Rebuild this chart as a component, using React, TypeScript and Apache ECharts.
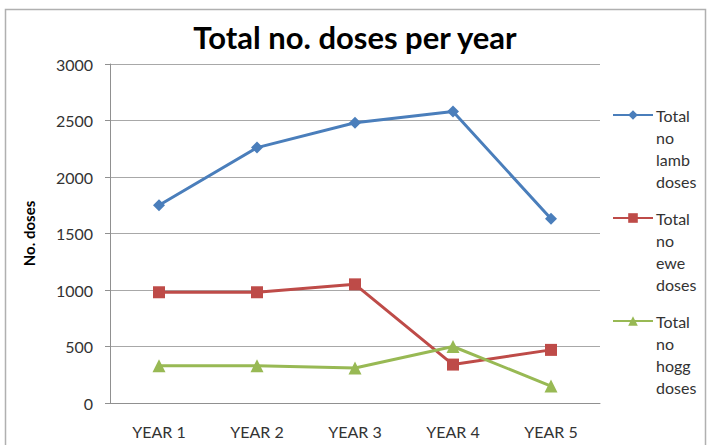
import React, { useEffect, useRef } from "react";
import * as echarts from "echarts";

const categories = ["YEAR 1", "YEAR 2", "YEAR 3", "YEAR 4", "YEAR 5"];
const lambDoses = [1750, 2260, 2480, 2580, 1630];
const eweDoses = [980, 980, 1050, 340, 470];
const hoggDoses = [330, 330, 310, 500, 150];
const seriesNames = ["Total no lamb doses", "Total no ewe doses", "Total no hogg doses"];
const yTicks = { min: 0, max: 3000, interval: 500 };

const FONT = "Lato, 'Open Sans', sans-serif";

export default function App() {
  const ref = useRef<HTMLDivElement>(null);
  useEffect(() => {
    if (!ref.current) return;
    const chart = echarts.init(ref.current, null, { renderer: "svg" });
    const legendTops = [38, 141, 244];
    const legendBase = {
      orient: "vertical",
      left: 612,
      padding: 0,
      itemWidth: 40,
      itemHeight: 12,
      itemGap: 0,
      formatter: (name: string) => "\n\n\n" + name.split(" ").join("\n"),
      textStyle: { fontFamily: FONT, fontSize: 16, color: "#333", lineHeight: 22, padding: [0, 0, 0, -2] },
    };
    chart.setOption({
      animation: false,
      backgroundColor: "#fff",
      title: {
        text: "Total no. doses per year",
        left: "center",
        top: 16,
        padding: [5, 0, 5, 14],
        textStyle: { fontFamily: FONT, fontSize: 31, fontWeight: "bold", color: "#000" },
      },
      graphic: [
        {
          type: "rect",
          shape: { x: 5.5, y: 9.5, width: 700, height: 450 },
          style: { fill: "none", stroke: "#b0b0b0", lineWidth: 1.5 },
          silent: true,
          z: -1,
        },
      ],
      legend: seriesNames.map((n, i) => ({ ...legendBase, top: legendTops[i], data: [n] })),
      grid: { left: 110, right: 110, top: 64, bottom: 42, containLabel: false },
      xAxis: {
        type: "category",
        data: categories,
        boundaryGap: true,
        axisLine: { lineStyle: { color: "#909090", width: 1 } },
        axisTick: { show: false },
        axisLabel: { fontFamily: FONT, fontSize: 16, color: "#333", margin: 20 },
      },
      yAxis: {
        type: "value",
        min: yTicks.min,
        max: yTicks.max,
        interval: yTicks.interval,
        name: "No. doses",
        nameLocation: "middle",
        nameGap: 74,
        nameTextStyle: { fontFamily: FONT, fontSize: 15, fontWeight: "bold", color: "#000" },
        axisLine: { show: true, lineStyle: { color: "#909090", width: 1 } },
        axisTick: { show: true, length: 5, lineStyle: { color: "#909090" } },
        axisLabel: {
          fontFamily: FONT,
          fontSize: 16,
          color: "#333",
          margin: 17,
          formatter: (v: number) => String(v),
        },
        splitLine: { lineStyle: { color: "#a8a8a8", width: 1 } },
      },
      series: [
        {
          name: seriesNames[0],
          type: "line",
          data: lambDoses,
          symbol: "diamond",
          symbolSize: 12,
          lineStyle: { color: "#4a7ebb", width: 3 },
          itemStyle: { color: "#4a7ebb" },
        },
        {
          name: seriesNames[1],
          type: "line",
          data: eweDoses,
          symbol: "rect",
          symbolSize: 12,
          lineStyle: { color: "#be4b48", width: 3 },
          itemStyle: { color: "#be4b48" },
        },
        {
          name: seriesNames[2],
          type: "line",
          data: hoggDoses,
          symbol: "triangle",
          symbolSize: 13,
          lineStyle: { color: "#98b954", width: 3 },
          itemStyle: { color: "#98b954" },
        },
      ],
    });
    return () => chart.dispose();
  }, []);
  return (
    <div
      ref={ref}
      style={{ position: "absolute", left: 0, top: 0, width: 710, height: 445 }}
    />
  );
}
